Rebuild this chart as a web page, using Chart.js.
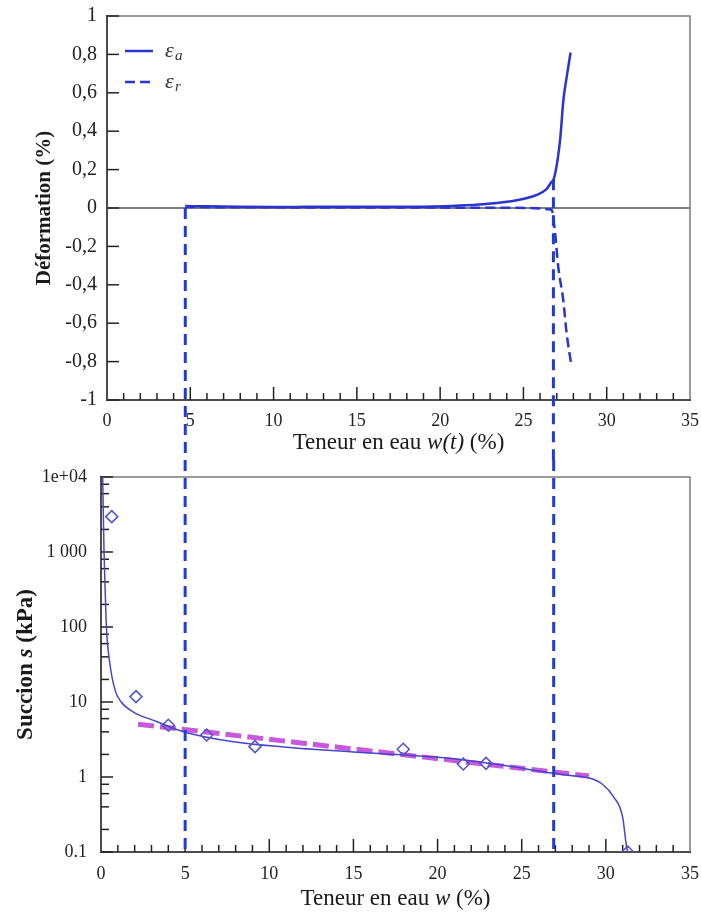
<!DOCTYPE html>
<html>
<head>
<meta charset="utf-8">
<script src="https://cdn.jsdelivr.net/npm/chart.js@4.4.1/dist/chart.umd.min.js"></script>
<style>
body { margin: 0; background: #fff; }
#topChart { position: absolute; left: 0; top: 0; }
#bottomChart { position: absolute; left: 0; top: 460px; }
</style>
</head>
<body>
<canvas id="topChart" width="701" height="460"></canvas>
<canvas id="bottomChart" width="701" height="455"></canvas>
<script>
// --- top panel: strains vs water content w(t) ---
const wA = [4.7, 6, 8, 10, 12, 14, 16, 18, 19.6, 21, 22.6, 24.6, 25.8, 26.4, 26.7, 26.8, 27.2, 27.4, 27.6, 27.83]
const epsA = [0.01, 0.009, 0.006, 0.005, 0.006, 0.007, 0.007, 0.007, 0.008, 0.012, 0.02, 0.04, 0.068, 0.1, 0.137, 0.146, 0.354, 0.5625, 0.684, 0.81]
const wR = [4.7, 8, 12, 16, 20, 24, 26, 26.5, 26.7, 26.9, 27.09, 27.39, 27.59, 27.89]
const epsR = [0.005, 0.004, 0.003, 0.003, 0.002, 0.001, -0.002, -0.006, -0.01, -0.13, -0.306, -0.479, -0.65, -0.826]

// --- bottom panel: suction vs water content w ---
const fitW = [0.1, 0.14, 0.18, 0.25, 0.32, 0.5, 0.83, 1.2, 1.9, 3.3, 5.0, 7.85, 11, 14.8, 20.7, 24, 26.9, 28, 29.06, 29.8, 30.44, 31.0, 31.23, 31.3]
const fitS = [10000, 3000, 1000, 300, 100, 36, 14.5, 10, 7.4, 5.5, 3.95, 2.95, 2.5, 2.17, 1.78, 1.42, 1.12, 1.04, 0.96, 0.8, 0.55, 0.29, 0.117, 0.1]
const measW = [0.64, 2.08, 4.0, 6.28, 9.15, 17.96, 21.53, 22.88, 31.3]
const measS = [2960, 11.8, 4.9, 3.63, 2.54, 2.34, 1.49, 1.52, 0.1]
const linW = [2.2, 29.0]
const linS = [5.05, 1.03]

// vertical guide lines (water content), and where they start on the strain axis
const guideWTop = [4.7, 26.8]
const guideEpsTop = [0, 0.15]
const guideWBottom = [5, 26.9]

// ticks
const xTicks = [0, 5, 10, 15, 20, 25, 30, 35]
const xLabels = ['0', '5', '10', '15', '20', '25', '30', '35']
const yTicksTop = [-1, -0.8, -0.6, -0.4, -0.2, 0, 0.2, 0.4, 0.6, 0.8, 1]
const yLabelsTop = ['-1', '-0,8', '-0,6', '-0,4', '-0,2', '0', '0,2', '0,4', '0,6', '0,8', '1']
const yTicksBottom = [0.1, 1, 10, 100, 1000, 10000]
const yLabelsBottom = ['0.1', '1', '10', '100', '1 000', '1e+04']
const logMinorSteps = [2, 4, 6, 8]

const serif = '"Liberation Serif", "DejaVu Serif", serif'
const blue = '#2a35d0'

const pts = (xs, ys) => xs.map((x, i) => ({ x: x, y: ys[i] }))

function line(ctx, x0, y0, x1, y1) {
    ctx.beginPath()
    ctx.moveTo(x0, y0)
    ctx.lineTo(x1, y1)
    ctx.stroke()
}

// box, inward tick marks, zero line
const frame = {
    id: 'frame',
    beforeDatasetsDraw(chart, args, opts) {
        const { ctx, chartArea: a, scales: { x, y } } = chart
        ctx.save()
        ctx.strokeStyle = '#666'
        ctx.lineWidth = 1.3
        ctx.strokeRect(a.left, a.top, a.right - a.left, a.bottom - a.top)
        if (opts.zeroLine) {
            ctx.strokeStyle = '#808080'
            ctx.lineWidth = 2
            const py = y.getPixelForValue(0)
            line(ctx, a.left, py, a.right, py)
        }
        ctx.strokeStyle = '#222'
        ctx.lineWidth = 1.5
        for (let v = 1; v < 35; v++) {
            const px = x.getPixelForValue(v)
            line(ctx, px, a.bottom, px, a.bottom - (v % 5 === 0 ? 13 : 7))
        }
        const majors = opts.log ? yTicksBottom : yTicksTop
        majors.forEach(v => {
            const py = y.getPixelForValue(v)
            line(ctx, a.left, py, a.left + 12, py)
        })
        if (opts.log) {
            yTicksBottom.slice(0, -1).forEach(d => {
                logMinorSteps.forEach(m => {
                    const py = y.getPixelForValue(d * m)
                    line(ctx, a.left, py, a.left + 8, py)
                })
            })
        }
        ctx.restore()
    }
}

// dashed blue vertical guides crossing both panels
const guides = {
    id: 'guides',
    afterDatasetsDraw(chart, args, opts) {
        const { ctx, chartArea: a, scales: { x, y } } = chart
        ctx.save()
        ctx.strokeStyle = '#1f3cd4'
        ctx.lineWidth = 3
        ctx.setLineDash([11, 7])
        if (opts.panel === 'top') {
            guideWTop.forEach((w, i) => {
                const px = x.getPixelForValue(w)
                line(ctx, px, y.getPixelForValue(guideEpsTop[i]), px, chart.height)
            })
        } else {
            guideWBottom.forEach(w => {
                const px = x.getPixelForValue(w)
                line(ctx, px, 0, px, a.bottom)
            })
        }
        ctx.restore()
    }
}

function drawRich(ctx, parts, cx, cy, size, rotate) {
    ctx.save()
    ctx.translate(cx, cy)
    if (rotate) ctx.rotate(-Math.PI / 2)
    const fontOf = p => (p.italic ? 'italic ' : '') + (p.bold ? 'bold ' : '') + size + 'px ' + serif
    let total = 0
    parts.forEach(p => {
        ctx.font = fontOf(p)
        total += ctx.measureText(p.text).width
    })
    let xx = -total / 2
    ctx.textBaseline = 'middle'
    ctx.fillStyle = '#1a1a1a'
    parts.forEach(p => {
        ctx.font = fontOf(p)
        ctx.fillText(p.text, xx, 0)
        xx += ctx.measureText(p.text).width
    })
    ctx.restore()
}

// axis titles with mixed italic
const titles = {
    id: 'titles',
    afterDraw(chart, args, opts) {
        const { ctx, chartArea: a } = chart
        drawRich(ctx, opts.x, (a.left + a.right) / 2, a.bottom + opts.xOffset, opts.xSize, false)
        drawRich(ctx, opts.y, a.left - opts.yOffset, (a.top + a.bottom) / 2, opts.ySize, true)
    }
}

// legend inside the top panel: line sample, epsilon with subscript
const epsLegend = {
    id: 'epsLegend',
    afterDraw(chart) {
        const { ctx, chartArea: a } = chart
        ctx.save()
        chart.data.datasets.forEach((ds, i) => {
            const yy = a.top + 35 + i * 31
            ctx.strokeStyle = ds.borderColor
            ctx.lineWidth = 2.5
            ctx.setLineDash(ds.borderDash || [])
            line(ctx, a.left + 18, yy, a.left + 46, yy)
            ctx.setLineDash([])
            ctx.fillStyle = '#333'
            ctx.textBaseline = 'alphabetic'
            ctx.font = 'italic 22px ' + serif
            ctx.fillText('ε', a.left + 58, yy + 6)
            ctx.font = 'italic 15px ' + serif
            ctx.fillText(ds.label, a.left + 68, yy + 9)
        })
        ctx.restore()
    }
}

function xScale(height, padding) {
    return {
        type: 'linear',
        min: 0,
        max: 35,
        afterBuildTicks: s => { s.ticks = xTicks.map(v => ({ value: v })) },
        afterFit: s => {
            s.height = height
            s.paddingLeft = 0
            s.paddingRight = 0
        },
        ticks: {
            callback: (v, i) => xLabels[i],
            font: { family: serif, size: 18 },
            color: '#222',
            padding: padding,
            maxRotation: 0,
            autoSkip: false
        },
        grid: { display: false, drawTicks: false },
        border: { display: true, color: '#222', width: 2 }
    }
}

function yScale(type, min, max, values, labels, width, size, padding) {
    return {
        type: type,
        min: min,
        max: max,
        afterBuildTicks: s => { s.ticks = values.map(v => ({ value: v })) },
        afterFit: s => {
            s.width = width
            s.paddingTop = 0
            s.paddingBottom = 0
        },
        ticks: {
            callback: (v, i) => labels[i],
            font: { family: serif, size: size },
            color: '#222',
            padding: padding
        },
        grid: { display: false, drawTicks: false },
        border: { display: true, color: '#222', width: 2 }
    }
}

const topChart = new Chart(document.getElementById('topChart'), {
    type: 'line',
    plugins: [frame, guides, titles, epsLegend],
    data: {
        datasets: [{
            label: 'a',
            data: pts(wA, epsA),
            borderColor: blue,
            borderWidth: 2.5,
            pointRadius: 0,
            cubicInterpolationMode: 'monotone',
            fill: false
        }, {
            label: 'r',
            data: pts(wR, epsR),
            borderColor: blue,
            borderWidth: 2.5,
            borderDash: [10, 5],
            pointRadius: 0,
            cubicInterpolationMode: 'monotone',
            fill: false
        }]
    },
    options: {
        responsive: false,
        animation: false,
        events: [],
        devicePixelRatio: 1,
        layout: { padding: { left: 0, right: 11, top: 16, bottom: 0 } },
        scales: {
            x: xScale(60, 10),
            y: yScale('linear', -1, 1, yTicksTop, yLabelsTop, 107, 20, 10)
        },
        plugins: {
            legend: { display: false },
            tooltip: { enabled: false },
            frame: { zeroLine: true, log: false },
            guides: { panel: 'top' },
            titles: {
                x: [{ text: 'Teneur en eau ' }, { text: 'w(t)', italic: true }, { text: ' (%)' }],
                y: [{ text: 'Déformation (%)', bold: true }],
                xOffset: 43,
                yOffset: 62,
                xSize: 23,
                ySize: 21
            }
        }
    }
})

const bottomChart = new Chart(document.getElementById('bottomChart'), {
    type: 'line',
    plugins: [frame, guides, titles],
    data: {
        datasets: [{
            label: 'mesures',
            data: pts(measW, measS),
            showLine: false,
            pointStyle: 'rectRot',
            pointRadius: 6,
            pointBorderWidth: 1.5,
            borderColor: '#5252cc',
            backgroundColor: 'rgba(255,255,255,0)'
        }, {
            label: 'modèle',
            data: pts(fitW, fitS),
            borderColor: '#4646cc',
            borderWidth: 1.5,
            pointRadius: 0,
            cubicInterpolationMode: 'monotone',
            fill: false
        }, {
            label: 'régression',
            data: pts(linW, linS),
            borderColor: 'rgba(190, 60, 215, 0.85)',
            borderWidth: 5,
            borderDash: [16, 6],
            pointRadius: 0,
            fill: false
        }]
    },
    options: {
        responsive: false,
        animation: false,
        events: [],
        devicePixelRatio: 1,
        layout: { padding: { left: 0, right: 11, top: 17, bottom: 0 } },
        scales: {
            x: xScale(63, 11),
            y: yScale('logarithmic', 0.1, 10000, yTicksBottom, yLabelsBottom, 101, 18, 14)
        },
        plugins: {
            legend: { display: false },
            tooltip: { enabled: false },
            frame: { zeroLine: false, log: true },
            guides: { panel: 'bottom' },
            titles: {
                x: [{ text: 'Teneur en eau ' }, { text: 'w', italic: true }, { text: ' (%)' }],
                y: [{ text: 'Succion ', bold: true }, { text: 's', bold: true, italic: true }, { text: ' (kPa)', bold: true }],
                xOffset: 47,
                yOffset: 75,
                xSize: 23,
                ySize: 23
            }
        }
    }
})
</script>
</body>
</html>
